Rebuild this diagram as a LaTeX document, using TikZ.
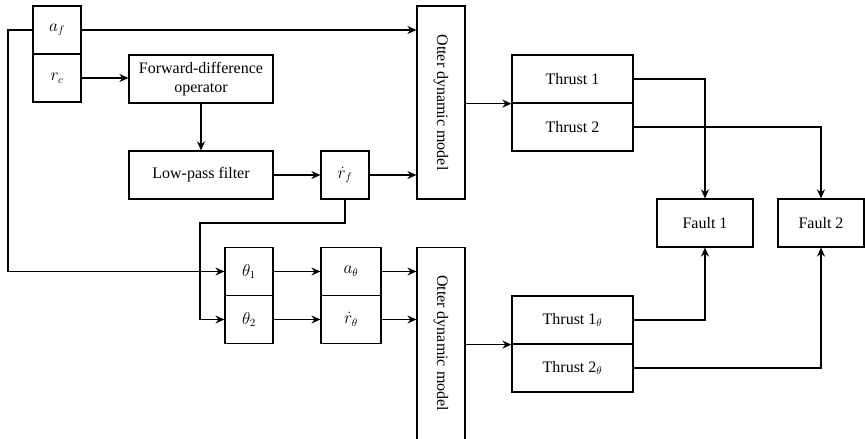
\documentclass[tikz,border=0pt]{standalone}
\usepackage{fontspec}
\setmainfont{Liberation Serif}
\usetikzlibrary{arrows.meta}
\begin{document}
\begin{tikzpicture}[x=1pt,y=-1pt,
  font=\fontsize{16}{19}\selectfont,
  box/.style={draw, line width=1.2pt, inner sep=0pt, align=center,
    minimum width=48pt, minimum height=48pt},
  link/.style={line width=1.2pt},
  arr/.style={link, -{Stealth[length=9pt,width=8pt]}}]
\path[use as bounding box] (0,0) rectangle (865,439);
\clip (0,0) rectangle (865,439);

% input signals
\node[box] (af) at (57,30) {$a_f$};
\node[box] (rc) at (57,78) {$r_c$};

% velocity estimation chain
\node[box, minimum width=144pt] (fd) at (201,79) {Forward-difference\\operator};
\node[box, minimum width=144pt] (lpf) at (201,175) {Low-pass filter};
\node[box] (rf) at (345,175) {$\dot r_f$};

% first model
\node[box, minimum height=193pt] (om1) at (441,102.5) {};
\node[rotate=-90] (om1txt) at (om1.center) {Otter dynamic model};

\node[box, minimum width=121pt] (t1) at (572.5,79) {Thrust 1};
\node[box, minimum width=121pt] (t2) at (572.5,127) {Thrust 2};

% fault indicators
\node[box, minimum width=96pt] (f1) at (705,223) {Fault 1};
\node[box, minimum width=86pt] (f2) at (821,223) {Fault 2};

% angle-based branch
\node[box] (th1) at (249,271.5) {$\theta_1$};
\node[box] (th2) at (249,319.5) {$\theta_2$};
\node[box, minimum width=60pt] (ath) at (351,271.5) {$a_\theta$};
\node[box, minimum width=60pt] (rth) at (351,319.5) {$\dot r_\theta$};

\node[box, minimum height=200pt] (om2) at (441,347.5) {};
\node[rotate=-90] (om2txt) at (441,343) {Otter dynamic model};

\node[box, minimum width=121pt] (t1t) at (572.5,320) {Thrust 1$_\theta$};
\node[box, minimum width=121pt] (t2t) at (572.5,368) {Thrust 2$_\theta$};

% routing points
\coordinate (lft) at (8,30);
\coordinate (lfb) at (8,271.5);
\coordinate (rfa) at (345,223);
\coordinate (rfb) at (200,223);

% connectors, upper branch
\draw[arr] (af.east) -- (af.east -| om1.west);
\draw[arr] (rc.east) -- (rc.east -| fd.west);
\draw[arr] (fd.south) -- (lpf.north);
\draw[arr] (lpf.east) -- (rf.west);
\draw[arr] (rf.east) -- (rf.east -| om1.west);
\draw[arr] (om1.east |- t1.south west) -- (t1.south west);
\draw[arr] (t1.east) -| (f1.north);
\draw[arr] (t2.east) -| (f2.north);

% connectors, lower branch
\draw[arr] (af.west) -- (lft) -- (lfb) -- (th1.west);
\draw[arr] (rf.south) -- (rfa) -- (rfb) |- (th2.west);
\draw[arr] (th1.east) -- (ath.west);
\draw[arr] (th2.east) -- (rth.west);
\draw[arr] (ath.east) -- (ath.east -| om2.west);
\draw[arr] (rth.east) -- (rth.east -| om2.west);
\draw[arr] (om2.east |- t1t.south west) -- (t1t.south west);
\draw[arr] (t1t.east) -| (f1.south);
\draw[arr] (t2t.east) -| (f2.south);
\end{tikzpicture}
\end{document}
